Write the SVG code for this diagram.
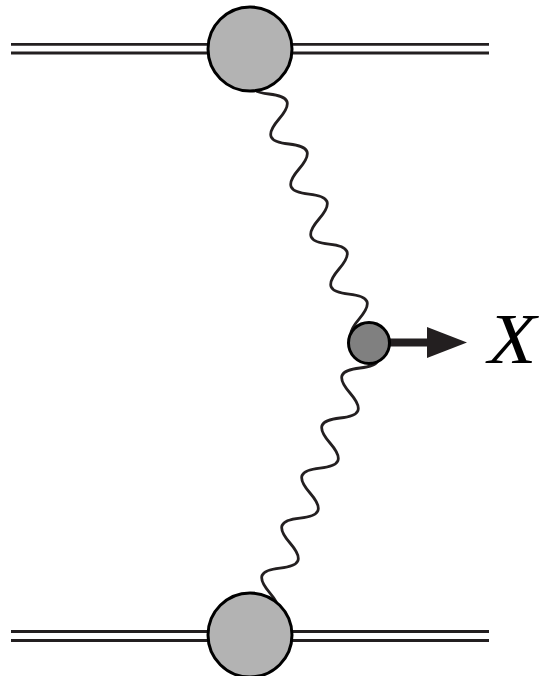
<svg xmlns="http://www.w3.org/2000/svg" width="542" height="676" viewBox="0 0 542 676">
<style>
.line{stroke:#231f20;stroke-width:2.8;fill:none}
.wave{stroke:#231f20;stroke-width:2.8;fill:none;stroke-linecap:round}
.big{fill:#b3b3b3;stroke:#000;stroke-width:3}
.small{fill:#808080;stroke:#000;stroke-width:3}
.lbl{font-family:"Liberation Serif","Times New Roman",serif;font-style:italic;font-size:72px;fill:#000}
</style>
<g id="connectors">
<path class="line" d="M11,44.3H489M11,53H489"/>
<path class="line" d="M11,631.5H489M11,640.5H489"/>
<path class="wave" transform="translate(259,69) rotate(68.2)" d="M0,0 C9.7,18.5 17.2,18.5 26.93,0 S44.2,-18.5 53.86,0 S71.1,18.5 80.79,0 S98.1,-18.5 107.72,0 S125,18.5 134.65,0 S152,-18.5 161.58,0 S178.9,18.5 188.51,0 S205.8,-18.5 215.44,0 S232.7,18.5 242.37,0 S259.6,-18.5 269.3,0 S286.6,18.5 296.23,0"/>
<path class="wave" transform="translate(370,343) rotate(111.8)" d="M0,0 C9.7,-18.5 17.2,-18.5 26.93,0 S44.2,18.5 53.86,0 S71.1,-18.5 80.79,0 S98.1,18.5 107.72,0 S125,-18.5 134.65,0 S152,18.5 161.58,0 S178.9,-18.5 188.51,0 S205.8,18.5 215.44,0 S232.7,-18.5 242.37,0 S259.6,18.5 269.3,0 S286.6,-18.5 296.23,0 S313.5,18.5 323.16,0"/>
<path d="M388,342.5H430" stroke="#231f20" stroke-width="8" fill="none"/>
<polygon points="427,327 467,342.5 427,358" fill="#231f20"/>
</g>
<g id="top-blob"><circle class="big" cx="250" cy="49" r="42"/></g>
<g id="bottom-blob"><circle class="big" cx="250" cy="635" r="42"/></g>
<g id="vertex"><circle class="small" cx="369" cy="343" r="20.5"/></g>
<g id="label"><text class="lbl" transform="translate(488,363) scale(1.1,1)" x="0" y="0">X</text></g>
</svg>
